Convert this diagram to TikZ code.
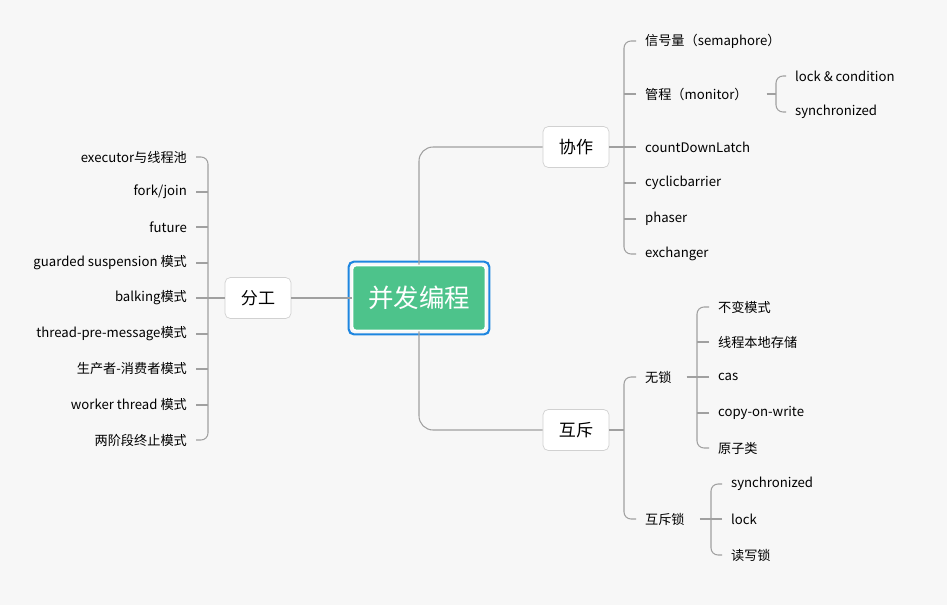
\documentclass[tikz,border=0pt]{standalone}
\usepackage{fontspec}
\setmainfont{Noto Sans CJK SC}
\usetikzlibrary{positioning, calc}
\definecolor{bgc}{HTML}{F7F7F7}
\definecolor{rootc}{HTML}{4DC38B}
\definecolor{rimc}{HTML}{1E86E0}
\definecolor{linec}{HTML}{A0A0A0}

\begin{document}
\begin{tikzpicture}[x=0.02cm, y=-0.02cm,
    line/.style={draw=linec, line width=0.6pt},
    root/.style={fill=rootc, draw=white, line width=1pt, rounded corners=2pt,
      minimum width=2.66cm, minimum height=1.3cm, text=white, font=\fontsize{14.5}{16}\selectfont},
    topic/.style={fill=white, draw=black!18, rounded corners=3pt,
      minimum width=1.32cm, minimum height=0.82cm, font=\fontsize{9.7}{11}\selectfont},
    leafl/.style={anchor=east, inner xsep=5pt, inner ysep=1pt, font=\fontsize{7.5}{9}\selectfont},
    leafr/.style={anchor=west, inner xsep=5pt, inner ysep=1pt, font=\fontsize{7.5}{9}\selectfont}]

  \fill[bgc] (0,0) rectangle (947,605);
  \useasboundingbox (0,0) rectangle (947,605);

  \node[root] (root) at (419,298) {并发编程};
  \draw[rimc, line width=1.2pt, rounded corners=3pt]
    ([shift={(-3,3)}]root.south west) rectangle ([shift={(3,-3)}]root.north east);
  \node[topic] (fg) at (258,298) {分工};
  \node[topic] (xz) at (576,147) {协作};
  \node[topic] (hc) at (576,430) {互斥};

  % root to topics
  \draw[line] (root.west) -- (fg.east);
  \draw[line, rounded corners=8] (root.north) |- (xz.west);
  \draw[line, rounded corners=8] (root.south) |- (hc.west);

  % 分工
  \node[leafl] (l1) at (196,157) {executor与线程池};
  \node[leafl] (l2) at (196,192) {fork/join};
  \node[leafl] (l3) at (196,227) {future};
  \node[leafl] (l4) at (196,263) {guarded suspension 模式};
  \node[leafl] (l5) at (196,298) {balking模式};
  \node[leafl] (l6) at (196,334) {thread-pre-message模式};
  \node[leafl] (l7) at (196,369) {生产者-消费者模式};
  \node[leafl] (l8) at (196,405) {worker thread 模式};
  \node[leafl] (l9) at (196,440) {两阶段终止模式};
  \coordinate (lt) at (208,298);
  \draw[line] (fg.west) -- (lt);
  \draw[line, rounded corners=4] (l1.east) -- (l1.east -| lt) -- (l9.east -| lt) -- (l9.east);
  \foreach \n in {l2,l3,l4,l5,l6,l7,l8} \draw[line] (\n.east) -- (\n.east -| lt);

  % 协作
  \node[leafr] (r1) at (636,41) {信号量（semaphore）};
  \node[leafr] (r2) at (636,94) {管程（monitor）};
  \node[leafr] (r3) at (636,147) {countDownLatch};
  \node[leafr] (r4) at (636,183) {cyclicbarrier};
  \node[leafr] (r5) at (636,219) {phaser};
  \node[leafr] (r6) at (636,254) {exchanger};
  \coordinate (rt) at (624,147);
  \draw[line] (xz.east) -- (rt);
  \draw[line, rounded corners=4] (r1.west) -- (r1.west -| rt) -- (r6.west -| rt) -- (r6.west);
  \foreach \n in {r2,r3,r4,r5} \draw[line] (\n.west) -- (\n.west -| rt);

  \node[leafr] (m1) at (786,76) {lock \& condition};
  \node[leafr] (m2) at (786,112) {synchronized};
  \coordinate (mt) at (776,94);
  \draw[line] (r2.east) ++(10,0) -- (mt);
  \draw[line, rounded corners=4] (m1.west) -- (m1.west -| mt) -- (m2.west -| mt) -- (m2.west);

  % 互斥
  \node[leafr] (h1) at (636,377) {无锁};
  \node[leafr] (h2) at (636,519) {互斥锁};
  \coordinate (ht) at (624,430);
  \draw[line] (hc.east) -- (ht);
  \draw[line, rounded corners=4] (h1.west) -- (h1.west -| ht) -- (h2.west -| ht) -- (h2.west);

  \node[leafr] (w1) at (709,307) {不变模式};
  \node[leafr] (w2) at (709,342) {线程本地存储};
  \node[leafr] (w3) at (709,377) {cas};
  \node[leafr] (w4) at (709,413) {copy-on-write};
  \node[leafr] (w5) at (709,448) {原子类};
  \coordinate (wt) at (697,377);
  \draw[line] (h1.east) ++(6,0) -- (wt);
  \draw[line, rounded corners=4] (w1.west) -- (w1.west -| wt) -- (w5.west -| wt) -- (w5.west);
  \foreach \n in {w2,w3,w4} \draw[line] (\n.west) -- (\n.west -| wt);

  \node[leafr] (s1) at (722,484) {synchronized};
  \node[leafr] (s2) at (722,519) {lock};
  \node[leafr] (s3) at (722,555) {读写锁};
  \coordinate (st) at (711,519);
  \draw[line] (h2.east) ++(6,0) -- (st);
  \draw[line, rounded corners=4] (s1.west) -- (s1.west -| st) -- (s3.west -| st) -- (s3.west);
  \draw[line] (s2.west) -- (s2.west -| st);
\end{tikzpicture}
\end{document}
